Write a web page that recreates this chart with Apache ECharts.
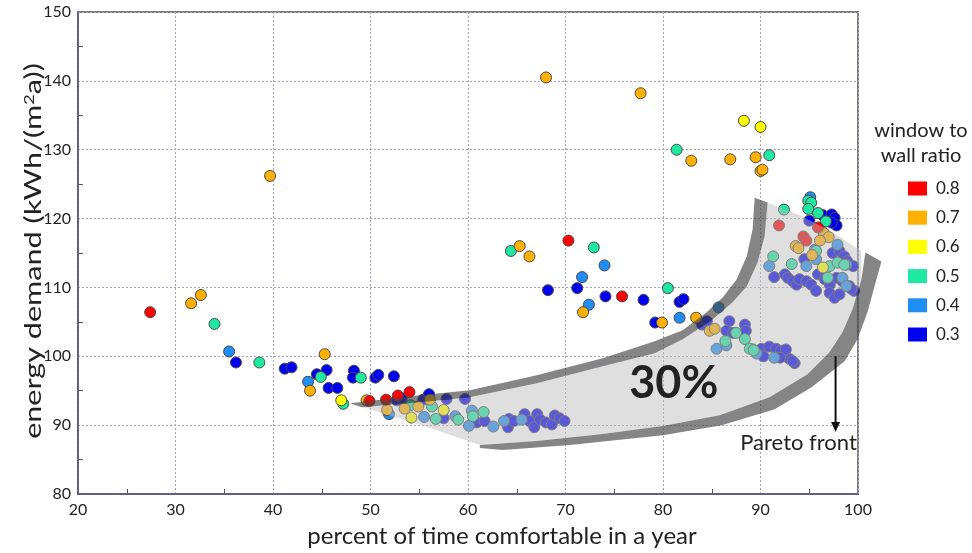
<!DOCTYPE html>
<html>
<head>
<meta charset="utf-8">
<script src="https://cdn.jsdelivr.net/npm/echarts@6/dist/echarts.min.js"></script>
<style>
  html, body { margin: 0; padding: 0; background: #fff; }
  #chart { width: 972px; height: 553px; }
</style>
</head>
<body>
<div id="chart"></div>
<script>
// Design variants: [percent of time comfortable, energy demand kWh/(m²a)],
// grouped by window to wall ratio.
const ratioNames = ['0.8', '0.7', '0.6', '0.5', '0.4', '0.3'];
const ratioColors = ['#ff0000', '#ffb000', '#ffff00', '#1ee8a2', '#1e8ef5', '#0000f0'];

const wwr08 = [
  [27.4,106.4],[70.3,116.8],[75.8,108.7],[49.9,93.5],[51.6,93.7],[52.8,94.3],[54.0,94.8],
  [91.9,119.0],[95.9,118.7],[94.4,117.4],[94.7,116.8]
];
const wwr07 = [
  [31.6,107.7],[32.6,108.9],[39.7,126.2],[45.3,100.3],[43.8,95.0],[68.0,140.5],[77.7,138.2],
  [82.9,128.4],[86.9,128.6],[89.5,128.9],[90.0,126.9],[90.2,127.1],[65.3,116.0],[66.3,114.5],
  [71.8,106.4],[79.9,104.9],[83.4,105.6],[84.8,103.7],[85.3,104.0],[49.6,93.6],[56.1,93.7],
  [51.7,92.2],[53.5,92.4],[54.9,92.7],[96.5,117.9],[97.0,117.3],[96.1,116.8],[93.6,116.0],
  [93.9,115.7],[95.3,114.7]
];
const wwr06 = [
  [88.3,134.2],[90.0,133.3],[47.0,93.6],[54.2,91.1],[57.5,92.2],[96.4,112.9]
];
const wwr05 = [
  [34.0,104.7],[38.6,99.1],[44.9,97.0],[47.2,93.1],[49.0,96.9],[64.4,115.3],[72.9,115.8],
  [81.4,130.0],[90.9,129.2],[80.5,109.9],[92.4,121.3],[91.3,114.5],[94.9,122.6],[95.2,122.3],
  [94.9,121.4],[95.9,120.8],[96.7,119.6],[93.2,113.4],[97.1,113.1],[97.9,113.6],[98.6,113.3],
  [96.9,111.4],[95.7,115.3],[86.4,102.2],[87.5,103.4],[88.4,102.5],[89.2,101.0],[88.9,101.1],
  [89.3,100.9],[54.1,92.9],[56.3,92.7],[56.7,90.9],[59.0,90.8],[60.5,91.3],[61.6,91.9]
];
const wwr04 = [
  [35.5,100.7],[43.6,96.3],[74.0,113.2],[71.7,111.5],[72.4,107.5],[81.7,105.6],[85.7,107.1],
  [95.1,123.1],[90.9,113.1],[94.7,113.1],[95.7,114.1],[97.9,116.2],[95.6,115.5],[98.8,113.3],
  [98.4,111.4],[98.8,110.2],[85.5,101.1],[86.5,101.6],[89.6,100.4],[91.4,99.8],
  [51.9,91.6],[55.5,91.2],[58.7,91.3],[60.4,92.1],[60.1,89.9],[62.6,89.8],[63.7,90.6],[65.5,90.8]
];
const wwr03 = [
  [36.2,99.1],[41.2,98.2],[41.9,98.4],[44.5,97.4],[45.5,98.0],[45.7,95.4],[46.6,95.4],
  [48.3,97.9],[48.2,96.9],[50.5,96.9],[50.8,97.3],[52.4,97.1],[52.7,93.6],[53.2,93.9],
  [55.4,93.7],[56.0,94.5],[57.8,93.8],[59.7,93.8],
  [68.2,109.6],[71.2,109.9],[74.1,108.7],[78.0,108.2],[81.7,107.9],[82.1,108.3],[79.2,104.9],
  [84.0,104.6],[84.5,105.1],
  [96.4,120.5],[97.3,120.6],[97.6,120.1],[97.8,119.0],[97.3,119.4],[95.0,119.7],[91.4,111.5],
  [92.5,111.9],[92.8,111.4],[93.3,110.9],[93.7,110.4],[94.0,111.2],[94.5,114.1],[97.4,115.0],
  [98.1,115.3],[98.6,114.5],[98.9,113.8],[99.5,113.1],[95.9,111.9],[96.6,111.2],[97.1,110.4],
  [97.8,111.4],[98.4,110.9],[99.1,110.2],[99.6,109.5],[99.3,109.8],[94.7,110.9],[95.2,110.4],
  [95.7,109.5],[97.1,109.2],[97.6,108.5],[98.1,109.0],
  [86.8,105.1],[86.5,103.7],[87.2,103.4],[88.4,104.6],[88.5,103.7],[90.1,101.1],[90.3,100.0],
  [90.9,101.4],[91.6,101.1],[92.1,100.8],[92.5,100.0],[93.0,99.6],[93.5,99.0],[92.6,101.0],
  [92.0,99.8],[93.3,99.3],
  [57.5,91.0],[60.9,90.4],[61.7,90.6],[64.2,90.9],[64.1,89.7],[64.7,90.6],[65.8,91.6],
  [66.3,90.6],[66.8,89.7],[67.1,91.6],[67.4,90.8],[68.0,90.4],[68.6,90.1],[68.9,91.4],
  [69.4,91.0],[69.9,90.6]
];
const seriesValues = [wwr08, wwr07, wwr06, wwr05, wwr04, wwr03];

// Axis ranges and tick step
const xRange = [20, 100];
const yRange = [80, 150];
const tickStep = 10;

// Pareto-front band outline (data coordinates)
const bandFill = [
  [49.13,92.61],[55.07,93.33],[60.19,94.06],[67.05,96.09],[73.82,98.55],[79.15,100.43],
  [82.02,102.46],[85.09,105.36],[87.14,107.83],[88.58,110.14],[89.70,113.62],[90.42,117.39],
  [90.73,122.32],[94.31,120.29],[97.79,117.68],[100.35,115.22],[100.35,111.16],[99.43,106.81],
  [98.40,103.48],[97.07,100.58],[94.82,97.39],[90.93,94.06],[85.81,91.45],[79.97,89.86],
  [73.82,88.70],[67.05,87.68],[61.22,87.10],[55.41,89.90],[47.90,93.19]
];
const bandUpperEdge = [
  [47.90,93.19],[55.07,94.35],[60.19,95.07],[67.05,97.25],[73.82,99.71],[79.15,102.17],
  [82.02,103.77],[84.48,106.38],[86.12,108.55],[87.55,111.16],[88.58,114.49],[89.19,118.41],
  [89.40,123.04],
  [90.73,122.32],[90.42,117.39],[89.70,113.62],[88.58,110.14],[87.14,107.83],[85.09,105.36],
  [82.02,102.46],[79.15,100.43],[73.82,98.55],[67.05,96.09],[60.19,94.06],[55.07,93.33],
  [49.13,92.61]
];
const bandLowerEdge = [
  [61.22,87.10],[67.05,87.68],[73.82,88.70],[79.97,89.86],[85.81,91.45],[90.93,94.06],
  [94.82,97.39],[97.07,100.58],[98.40,103.48],[99.43,106.81],[100.35,111.16],[100.76,115.07],
  [102.40,113.77],[101.69,110.14],[100.97,106.38],[99.95,102.46],[98.62,99.28],[95.24,95.51],
  [91.45,92.32],[86.02,90.00],[79.97,88.55],[70.44,87.10],[63.58,86.38],[61.22,86.67]
];

const FONT = 'Lato, "Open Sans", sans-serif';
const INK = '#222';
const AXIS_COLOR = '#55557a';

const chart = echarts.init(document.getElementById('chart'), null, { renderer: 'canvas' });

function axisCommon() {
  return {
    type: 'value',
    interval: tickStep,
    axisLine: { show: true, lineStyle: { color: AXIS_COLOR, width: 1.5 } },
    axisTick: { show: false, inside: true },
    minorTick: { show: true, splitNumber: 2, length: 5, lineStyle: { color: AXIS_COLOR, width: 1 } },
    splitLine: { show: true, lineStyle: { color: '#a2a2bc', width: 1, type: [2, 2] } },
    axisLabel: { fontFamily: FONT, fontSize: 16, color: INK },
    nameLocation: 'middle'
  };
}

const option = {
  backgroundColor: '#fff',
  animation: false,
  grid: {
    left: 78, right: 114, top: 12, bottom: 58,
    show: true, borderColor: '#7c7c8a', borderWidth: 2
  },
  xAxis: Object.assign(axisCommon(), {
    min: xRange[0], max: xRange[1],
    name: 'percent of time comfortable in a year',
    nameGap: 30,
    nameTextStyle: { fontFamily: FONT, fontSize: 24, color: INK, padding: [0, 0, 0, 68] },
    axisLabel: { fontFamily: FONT, fontSize: 16, color: INK, margin: 8 }
  }),
  yAxis: Object.assign(axisCommon(), {
    min: yRange[0], max: yRange[1],
    axisLabel: { fontFamily: FONT, fontSize: 16, color: INK, margin: 7 }
  }),
  legend: {
    data: ratioNames,
    orient: 'vertical',
    left: 903, top: 175,
    itemWidth: 19, itemHeight: 14, itemGap: 12.2,
    icon: 'rect',
    selectedMode: false,
    itemStyle: { borderWidth: 0 },
    textStyle: { fontFamily: FONT, fontSize: 17, color: INK, padding: [0, 0, 0, 4] }
  },
  series: ratioNames.map((name, i) => ({
    name: name,
    type: 'scatter',
    data: seriesValues[i],
    symbol: 'circle',
    symbolSize: 11,
    itemStyle: { color: ratioColors[i], borderColor: '#4a4a4a', borderWidth: 1, opacity: 1 }
  })).reverse()
};

chart.setOption(option);

// Annotation layer: shaded Pareto band, labels and arrow, placed through the grid's coordinate system
function toPx(pt) { return chart.convertToPixel({ gridIndex: 0 }, pt); }
function poly(list) { return list.map(toPx); }

const labelPos = toPx([81.1, 96.1]);
const paretoPos = toPx([93.9, 87.4]);
const arrowTop = toPx([97.7, 100.0]);
const arrowTip = toPx([97.7, 89.0]);
const yMid = toPx([xRange[0], (yRange[0] + yRange[1]) / 2]);

chart.setOption({
  graphic: [
    { type: 'polygon', z: 10, silent: true, shape: { points: poly(bandFill) },
      style: { fill: 'rgba(190,186,186,0.47)' } },
    { type: 'polygon', z: 11, silent: true, shape: { points: poly(bandUpperEdge) },
      style: { fill: 'rgba(70,70,70,0.66)' } },
    { type: 'polygon', z: 11, silent: true, shape: { points: poly(bandLowerEdge) },
      style: { fill: 'rgba(70,70,70,0.66)' } },
    { type: 'text', z: 12, x: labelPos[0], y: labelPos[1],
      style: { text: '30%', font: 'bold 45px ' + FONT, fill: '#222', align: 'center', verticalAlign: 'middle' } },
    { type: 'line', z: 12, shape: { x1: arrowTop[0], y1: arrowTop[1], x2: arrowTip[0], y2: arrowTip[1] - 8 },
      style: { stroke: '#111', lineWidth: 2 } },
    { type: 'polygon', z: 12, shape: { points: [[arrowTip[0] - 4.5, arrowTip[1] - 10], [arrowTip[0] + 4.5, arrowTip[1] - 10], [arrowTip[0], arrowTip[1]]] },
      style: { fill: '#111' } },
    { type: 'text', z: 12, x: paretoPos[0], y: paretoPos[1],
      style: { text: 'Pareto front', font: '22px ' + FONT, fill: '#222', align: 'center', verticalAlign: 'middle' } },
    { type: 'text', z: 12, x: 921, y: 131,
      style: { text: 'window to', font: '20px ' + FONT, fill: '#222', align: 'center', verticalAlign: 'middle' } },
    { type: 'text', z: 12, x: 921, y: 156,
      style: { text: 'wall ratio', font: '20px ' + FONT, fill: '#222', align: 'center', verticalAlign: 'middle' } },
    // y-axis title, drawn stretched along its reading direction
    { type: 'text', z: 12, x: 34, y: yMid[1] - 2, rotation: Math.PI / 2, scaleX: 1.33, scaleY: 1,
      style: {
        text: 'energy demand (kWh/(m{sup|2}a))',
        font: '23px ' + FONT, fill: '#222', align: 'center', verticalAlign: 'middle',
        rich: { sup: { font: '14px ' + FONT, fill: '#222', verticalAlign: 'top', padding: [0, 0, 9, 0] } }
      } }
  ]
});
</script>
</body>
</html>
